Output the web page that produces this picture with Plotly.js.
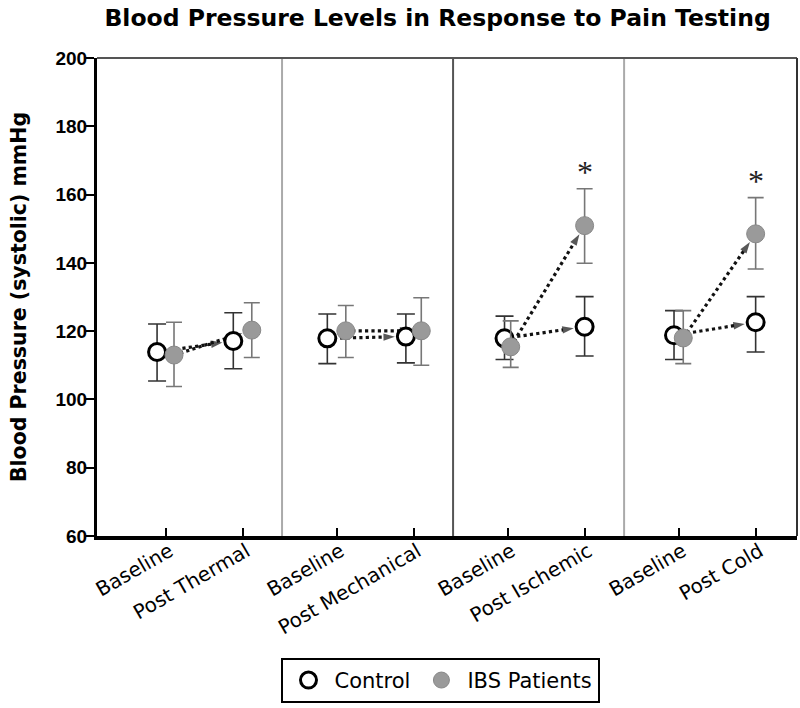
<!DOCTYPE html>
<html>
<head>
<meta charset="utf-8">
<script src="https://cdn.plot.ly/plotly-3.0.1.min.js"></script>
<style>
  html, body { margin: 0; padding: 0; background: #ffffff; }
  #chart { width: 800px; height: 708px; }
</style>
</head>
<body>
<div id="chart"></div>
<script>
// ---------------- data ----------------
const categories = ['Baseline', 'Post Thermal', 'Baseline', 'Post Mechanical',
                    'Baseline', 'Post Ischemic', 'Baseline', 'Post Cold'];
const controlMean = [113.9, 117.1, 117.9, 118.4, 117.9, 121.3, 118.8, 122.6];
const controlErrPlus = [8.2, 8.3, 7.1, 6.6, 6.5, 8.8, 7.2, 7.5];
const controlErrMinus = [8.5, 8.1, 7.4, 7.7, 6.2, 8.6, 7.1, 8.7];
const ibsMean = [113.0, 120.3, 120.1, 120.1, 115.4, 150.9, 118.0, 148.5];
const ibsErrPlus = [9.6, 8.0, 7.4, 9.7, 7.6, 10.8, 8.0, 10.6];
const ibsErrMinus = [9.2, 8.0, 7.8, 10.1, 6.0, 11.0, 7.5, 10.3];
const significant = [false, false, false, false, false, true, false, true];
const seriesNames = ['Control', 'IBS Patients'];

// ---------------- layout helpers (positions / styles) ----------------
const PANEL_GAP = 0.221;               // extra space between test panels
const xPos = categories.map((c, i) => i + PANEL_GAP * Math.floor(i / 2));
const controlDodge = [-0.11, -0.12, -0.12, -0.1, -0.04, 0, -0.06, 0];
const ibsDodge     = [ 0.11, 0.12,  0.12,  0.1,  0.04, 0,  0.06, 0];
const xControl = xPos.map((x, i) => x + controlDodge[i]);
const xIbs = xPos.map((x, i) => x + ibsDodge[i]);

const FONT = 'Liberation Sans, Arial, sans-serif';
const WIDE_FONT = 'DejaVu Sans, Verdana, sans-serif';
const IBS_FILL = '#9a9a9a';

const traces = [];

// dotted arrows from baseline to post for each series and each test
function arrowTrace(xs, ys, i, standoff) {
  return {
    type: 'scatter', mode: 'lines+markers', showlegend: false, hoverinfo: 'skip',
    x: [xs[i], xs[i + 1]], y: [ys[i], ys[i + 1]],
    line: { color: '#111111', width: 3.2, dash: 'dot' },
    marker: { symbol: ['circle', 'arrow'], size: [0, 12], color: '#111111',
              angleref: 'previous', standoff: standoff, line: { width: 0 } }
  };
}
for (let i = 0; i < categories.length; i += 2) {
  traces.push(arrowTrace(xControl, controlMean, i, 11));
  traces.push(arrowTrace(xIbs, ibsMean, i, 10));
}

traces.push({
  type: 'scatter', mode: 'markers', name: seriesNames[0],
  x: xControl, y: controlMean,
  error_y: { type: 'data', symmetric: false, array: controlErrPlus, arrayminus: controlErrMinus,
             color: '#333333', thickness: 1.6, width: 9 },
  marker: { symbol: 'circle', size: 17, color: '#ffffff', line: { color: '#000000', width: 3 } }
});
traces.push({
  type: 'scatter', mode: 'markers', name: seriesNames[1],
  x: xIbs, y: ibsMean,
  error_y: { type: 'data', symmetric: false, array: ibsErrPlus, arrayminus: ibsErrMinus,
             color: '#777777', thickness: 1.6, width: 8 },
  marker: { symbol: 'circle', size: 18, color: IBS_FILL, line: { color: '#888888', width: 1 } }
});

// panel dividers (placed between the post point of one test and the next baseline)
const dividerColors = ['#aaaaaa', '#555555', '#aaaaaa'];
const shapes = [];
for (let p = 1; p < 4; p++) {
  const xd = xPos[2 * p - 1] + 0.42 * (xPos[2 * p] - xPos[2 * p - 1]);
  shapes.push({ type: 'line', xref: 'x', yref: 'paper', x0: xd, x1: xd, y0: 0, y1: 1,
                line: { color: dividerColors[p - 1], width: 2 }, layer: 'below' });
}
// top and right frame lines
shapes.push({ type: 'line', xref: 'paper', yref: 'paper', x0: 0, x1: 1, y0: 1, y1: 1,
              line: { color: '#555555', width: 2 } });
shapes.push({ type: 'line', xref: 'paper', yref: 'paper', x0: 1, x1: 1, y0: 0, y1: 1,
              line: { color: '#333333', width: 2 } });

// significance asterisks
const annotations = [];
significant.forEach((s, i) => {
  if (!s) return;
  annotations.push({
    x: xIbs[i], y: ibsMean[i] + ibsErrPlus[i], xref: 'x', yref: 'y',
    text: '*', showarrow: false, yanchor: 'middle', yshift: 17,
    font: { family: 'Liberation Serif, Times New Roman, serif', size: 32, color: '#222222' }
  });
});

const layout = {
  width: 800, height: 708,
  paper_bgcolor: '#ffffff', plot_bgcolor: '#ffffff',
  margin: { l: 97, r: 3, t: 58, b: 172 },
  title: {
    text: '<b>Blood Pressure Levels in Response to Pain Testing</b>',
    font: { family: WIDE_FONT, size: 23.5, color: '#000000' },
    x: 0.547, xref: 'container', xanchor: 'center', y: 0.975, yref: 'container', yanchor: 'middle'
  },
  xaxis: {
    range: [-0.89, 8.2], showgrid: false, zeroline: false,
    tickmode: 'array', tickvals: xPos, ticktext: categories,
    tickangle: -30, ticks: 'inside', ticklen: 8, tickwidth: 2, tickcolor: '#000000',
    tickfont: { family: WIDE_FONT, size: 20, color: '#000000' },
    ticklabelstandoff: -8, ticklabelshift: 4,
    showline: true, linecolor: '#000000', linewidth: 4
  },
  yaxis: {
    range: [60, 200], dtick: 20, tick0: 60, showgrid: false, zeroline: false,
    ticks: 'outside', ticklen: 8, tickwidth: 2, tickcolor: '#000000',
    tickfont: { family: FONT, size: 19, color: '#000000', weight: 'bold' },
    ticklabelstandoff: -5,
    showline: true, linecolor: '#000000', linewidth: 3,
    title: { text: '<b>Blood Pressure (systolic) mmHg</b>',
             font: { family: WIDE_FONT, size: 20.5, color: '#000000' }, standoff: 24 }
  },
  legend: {
    orientation: 'h', x: 0.49, xanchor: 'center', y: -0.255, yanchor: 'top',
    bordercolor: '#000000', borderwidth: 2, bgcolor: '#ffffff',
    itemwidth: 42,
    font: { family: WIDE_FONT, size: 21, color: '#000000' }
  },
  shapes: shapes,
  annotations: annotations,
  showlegend: true
};

Plotly.newPlot('chart', traces, layout, { displayModeBar: false, staticPlot: true });
</script>
</body>
</html>
